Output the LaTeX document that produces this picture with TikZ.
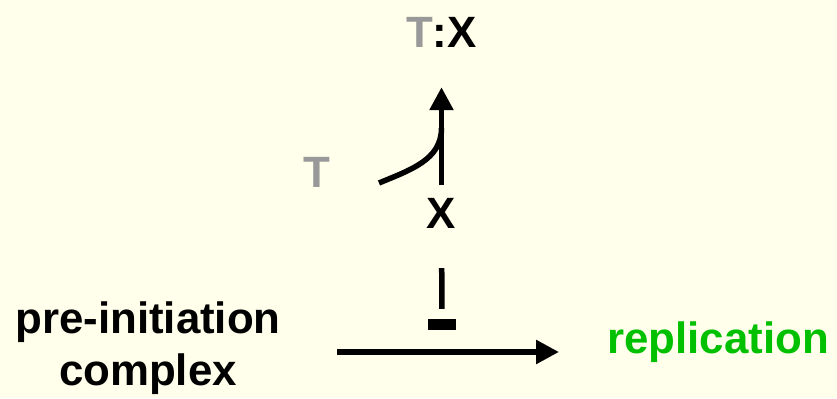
\documentclass[tikz,border=0pt]{standalone}
\usepackage{fontspec}
\setmainfont{Liberation Sans}
\usetikzlibrary{arrows.meta}
\definecolor{bgcream}{RGB}{255,255,236}
\definecolor{tgray}{RGB}{153,153,153}
\definecolor{repgreen}{RGB}{0,192,0}
\begin{document}
\begin{tikzpicture}[x=1bp,y=1bp,
  lbl/.style={inner sep=0pt, font=\fontsize{44}{52}\selectfont\bfseries},
  conn/.style={line width=5.5bp},
  tip/.style={-{Triangle[width=23bp,length=23bp]}}]
\fill[bgcream] (0,0) rectangle (837,398);
\useasboundingbox (0,0) rectangle (837,398);
\node[lbl, anchor=base] (tx) at (441.5,351) {\textcolor{tgray}{T}:X};
\node[lbl, anchor=base, text=tgray] (t) at (317,211) {T};
\node[lbl, anchor=base] (x) at (441.5,170) {X};
\node[fill=black, inner sep=0pt, minimum width=28bp, minimum height=11bp] (bar) at (442,73.5) {};
\node[lbl, anchor=base, align=center] (pre) at (148,13) {pre-initiation\\complex};
\node[lbl, anchor=base west, text=repgreen] (rep) at (607,45) {replication};
\coordinate (tcurve) at (379,215);
\coordinate (join) at (441.5,270);
\coordinate (hs) at (337,46);
\coordinate (he) at (559,46);
% X -> T:X
\draw[conn, tip, shorten <=13bp, shorten >=40bp] (x.north) -- (tx.south);
% T joining
\draw[conn] (tcurve) .. controls (410,228) and (441.5,238) .. (join);
% X inhibits
\draw[conn, shorten <=40bp, shorten >=10bp] (x.south) -- (bar.north);
% pre-initiation -> replication
\draw[conn, tip] (hs) -- (he);
\end{tikzpicture}
\end{document}
